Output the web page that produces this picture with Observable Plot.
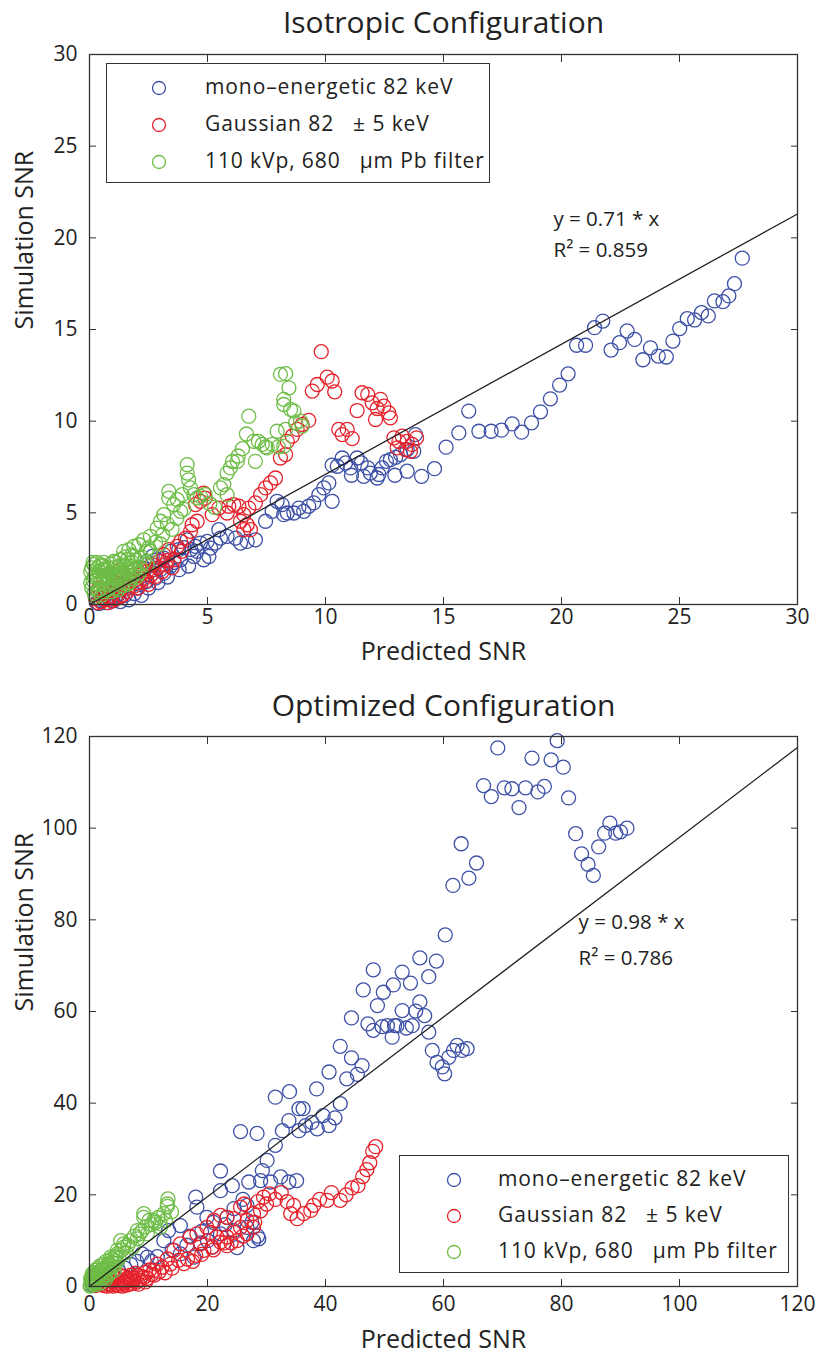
<!DOCTYPE html>
<html>
<head>
<meta charset="utf-8">
<script src="https://cdn.jsdelivr.net/npm/d3@7"></script>
<script src="https://cdn.jsdelivr.net/npm/@observablehq/plot@0.6"></script>
<style>
  body { margin: 0; background: #fff; }
  #wrap { position: relative; width: 817px; height: 1357px; overflow: hidden; background: #fff; }
  #wrap svg.plot { position: absolute; left: 0; }
  .legend { position: absolute; border: 1.3px solid #333; background: #fff; box-sizing: border-box; font-family: 'Open Sans', sans-serif; font-size: 21px; letter-spacing: 0.9px; color: #222; }
  .legend .row { position: absolute; white-space: pre; line-height: 1; }
  .legend svg { position: absolute; }
</style>
</head>
<body>
<div id="wrap"></div>
<script>
// ---------- data ----------
const seriesNames = ["mono\u2013energetic 82 keV", "Gaussian 82   \u00b1 5 keV", "110 kVp, 680   \u03bcm Pb filter"];
const seriesColors = ["#3d50a6", "#e5222b", "#6dbd46"];

const isoTitle = "Isotropic Configuration";
const optTitle = "Optimized Configuration";
const xLabel = "Predicted SNR";
const yLabel = "Simulation SNR";

const isoXTicks = [0, 5, 10, 15, 20, 25, 30];
const isoYTicks = [0, 5, 10, 15, 20, 25, 30];
const optXTicks = [0, 20, 40, 60, 80, 100, 120];
const optYTicks = [0, 20, 40, 60, 80, 100, 120];

const isoSlope = 0.71;
const optSlope = 0.98;
const isoFitText = ["y = 0.71 * x", "R\u00b2 = 0.859"];
const optFitText = ["y = 0.98 * x", "R\u00b2 = 0.786"];
const isoFitPos = [[19.66, 21.0], [19.66, 19.3]];
const optFitPos = [[82.9, 79.4], [82.9, 71.6]];

// Isotropic configuration: [predicted, simulated]
const isoMono = [[0.3,0.1],[0.4,0.05],[0.5,0.2],[0.61,0.34],[0.7,0.1],[0.82,0.34],[0.98,0.44],[1.0,0.2],[1.03,0.62],[1.17,0.8],[1.2,0.5],[1.31,0.16],[1.45,1.08],[1.5,0.5],[1.67,0.26],[1.74,1.26],[1.9,0.6],[1.95,1.35],[2.0,0.9],[2.16,1.08],[2.2,0.5],[2.3,1.98],[2.44,1.26],[2.44,2.35],[2.5,0.9],[2.6,1.6],[2.66,2.62],[2.8,1.44],[2.87,2.44],[2.9,1.2],[3.0,1.9],[3.15,1.71],[3.15,2.53],[3.3,1.5],[3.43,2.08],[3.43,2.9],[3.6,2.3],[3.78,2.99],[3.8,1.9],[3.86,2.44],[4.0,3.1],[4.14,3.53],[4.2,2.1],[4.3,3.0],[4.42,2.62],[4.49,3.17],[4.56,2.9],[4.7,3.35],[4.84,2.44],[4.99,3.44],[5.06,2.62],[5.13,3.08],[5.34,3.35],[5.48,4.08],[5.55,3.62],[5.83,3.72],[6.19,3.62],[6.4,3.35],[6.68,3.44],[7.03,3.53],[7.46,4.54],[7.74,5.08],[7.95,5.63],[8.16,5.45],[8.23,4.9],[8.38,4.99],[8.66,4.99],[8.87,5.26],[9.08,5.08],[9.29,5.36],[9.5,5.54],[9.72,5.99],[9.93,6.36],[10.14,6.63],[10.28,5.63],[10.28,7.6],[10.5,7.54],[10.71,7.99],[10.85,7.72],[11.06,7.45],[11.1,7.05],[11.34,7.99],[11.51,7.72],[11.62,6.99],[11.79,7.45],[11.9,7.17],[12.19,6.9],[12.26,7.09],[12.4,7.45],[12.58,7.81],[12.75,7.9],[12.94,7.05],[12.97,8.03],[13.18,8.18],[13.46,8.45],[13.46,7.27],[13.74,8.36],[13.81,9.27],[14.07,6.99],[14.62,7.41],[15.11,8.58],[15.65,9.36],[16.07,10.55],[16.5,9.45],[17.02,9.45],[17.46,9.51],[17.91,9.85],[18.31,9.4],[18.73,9.91],[19.11,10.51],[19.53,11.22],[19.92,11.97],[20.28,12.58],[20.64,14.14],[21.02,14.14],[21.4,15.1],[21.75,15.46],[22.1,13.88],[22.46,14.28],[22.78,14.92],[23.1,14.46],[23.45,13.35],[23.77,14.0],[24.1,13.55],[24.44,13.5],[24.72,14.37],[25.01,15.05],[25.33,15.59],[25.64,15.52],[25.93,15.92],[26.22,15.74],[26.48,16.56],[26.84,16.52],[27.09,16.83],[27.33,17.5],[27.66,18.89]];

const isoGauss = [[0.25,0.34],[0.35,0.1],[0.4,0.9],[0.47,0.16],[0.55,0.35],[0.6,0.6],[0.68,0.26],[0.75,0.7],[0.8,0.1],[0.89,0.44],[0.95,0.2],[1.0,1.6],[1.03,0.89],[1.1,0.3],[1.15,1.0],[1.2,1.3],[1.25,0.4],[1.31,0.8],[1.3,1.9],[1.4,0.5],[1.45,1.5],[1.53,1.08],[1.6,0.7],[1.65,0.9],[1.74,1.26],[1.85,1.6],[1.9,1.0],[1.95,1.35],[2.05,0.9],[2.1,1.2],[2.16,1.62],[2.25,1.9],[2.3,1.4],[2.4,1.3],[2.44,1.8],[2.5,1.1],[2.6,1.6],[2.66,2.17],[2.7,1.9],[2.8,1.53],[2.9,2.0],[2.94,2.35],[3.08,1.8],[3.15,2.72],[3.22,2.17],[3.3,2.4],[3.36,2.99],[3.5,2.0],[3.57,2.44],[3.72,3.17],[3.86,3.44],[3.9,2.9],[4.07,3.62],[4.28,3.99],[4.35,4.35],[4.49,5.45],[4.56,4.54],[4.7,5.63],[4.84,6.08],[4.9,5.8],[5.2,4.9],[5.48,5.26],[5.83,4.99],[5.9,5.36],[6.11,5.45],[6.33,5.36],[6.4,4.54],[6.54,4.9],[6.54,4.08],[6.68,4.35],[6.75,5.26],[6.82,4.08],[7.03,5.54],[7.25,5.99],[7.46,6.36],[7.67,6.63],[7.88,6.9],[8.09,7.99],[8.31,8.18],[8.38,8.9],[8.59,9.18],[8.8,9.55],[9.01,9.82],[9.29,10.04],[9.44,11.64],[9.65,12.0],[9.82,13.79],[10.07,12.4],[10.28,12.19],[10.39,11.6],[10.56,9.55],[10.71,9.27],[10.92,9.55],[11.13,9.05],[11.34,10.58],[11.55,11.55],[11.79,11.46],[11.98,11.0],[12.12,10.09],[12.19,10.69],[12.33,11.19],[12.47,10.82],[12.68,10.45],[12.75,10.18],[12.9,9.09],[13.04,8.54],[13.11,8.9],[13.25,9.18],[13.39,8.45],[13.46,8.9],[13.6,8.36],[13.67,8.73],[13.86,9.09]];

const isoSpec = [[0.05,1.2],[0.05,1.8],[0.1,0.9],[0.1,2.0],[0.15,1.3],[0.15,2.3],[0.19,2.17],[0.2,0.6],[0.2,1.5],[0.25,0.4],[0.3,1.1],[0.3,2.3],[0.33,1.5],[0.35,0.7],[0.35,2.0],[0.4,0.8],[0.4,1.8],[0.45,1.5],[0.47,2.17],[0.5,0.5],[0.5,1.2],[0.55,1.9],[0.55,2.1],[0.6,0.7],[0.6,1.4],[0.6,2.3],[0.65,1.6],[0.7,1.1],[0.7,1.9],[0.75,0.8],[0.75,1.4],[0.8,1.5],[0.8,2.0],[0.85,0.9],[0.9,1.7],[0.9,2.2],[0.95,0.7],[0.95,1.2],[1.0,1.1],[1.0,2.0],[1.03,2.35],[1.05,1.5],[1.1,0.9],[1.1,2.3],[1.15,1.5],[1.17,1.8],[1.2,0.8],[1.2,2.0],[1.25,1.3],[1.3,1.5],[1.3,2.1],[1.31,2.44],[1.35,1.7],[1.4,1.0],[1.4,1.6],[1.45,1.2],[1.45,2.9],[1.5,2.1],[1.5,2.6],[1.55,1.4],[1.6,1.1],[1.6,2.44],[1.65,1.9],[1.67,2.99],[1.7,1.2],[1.7,2.1],[1.74,1.8],[1.75,1.4],[1.8,2.3],[1.8,2.7],[1.85,1.6],[1.88,2.62],[1.88,3.17],[1.9,1.9],[1.95,2.0],[2.0,1.5],[2.0,2.4],[2.09,3.26],[2.1,1.7],[2.16,1.98],[2.2,2.6],[2.3,2.3],[2.3,3.53],[2.4,2.9],[2.44,2.17],[2.5,3.1],[2.58,2.9],[2.58,3.72],[2.8,3.4],[2.87,4.17],[3.0,3.3],[3.01,4.54],[3.1,3.8],[3.15,4.9],[3.3,4.4],[3.36,5.8],[3.36,6.17],[3.5,4.1],[3.57,5.45],[3.7,4.7],[3.72,5.72],[3.86,5.08],[3.93,5.99],[4.0,5.2],[4.14,7.17],[4.14,7.63],[4.2,6.8],[4.28,6.36],[4.42,5.99],[4.56,5.81],[4.7,5.9],[4.9,6.0],[5.1,5.5],[5.3,5.3],[5.55,6.36],[5.69,6.54],[5.83,5.99],[5.83,7.17],[5.97,7.45],[6.06,7.8],[6.26,7.81],[6.3,8.1],[6.48,8.5],[6.65,9.3],[6.75,10.27],[6.96,8.9],[7.03,7.81],[7.16,8.9],[7.32,8.73],[7.46,8.6],[7.53,8.54],[7.74,8.73],[7.95,9.45],[8.0,8.6],[8.09,12.55],[8.23,11.19],[8.23,10.91],[8.23,8.63],[8.31,12.59],[8.31,9.55],[8.45,11.82],[8.52,10.64],[8.66,10.55],[8.73,9.91],[8.94,10.0],[9.01,9.73]];

// Optimized configuration: [predicted, simulated]
const optMono = [[0.5,0.3],[1.2,0.8],[2,1.5],[3,2.0],[4,2.4],[5,3.2],[6,4.0],[7,4.8],[8,5.5],[8.9,7.1],[9.8,6.4],[10.5,5.5],[11.5,6.5],[12.6,10.0],[13.4,12.2],[14,8],[15.4,13.3],[15.4,7.1],[16.5,9],[17,11],[17.7,6.4],[18,19.5],[18.2,17.3],[18.8,9.5],[19,12],[19.9,15.1],[20,10],[20.8,8.6],[21,14],[22.2,11.5],[22.2,20.9],[22.2,25.2],[23,13.5],[23.3,15.1],[24.2,22.0],[24.5,12.2],[24.5,17],[25,8.5],[25.6,33.8],[26,19],[26.7,12.9],[26.7,17.7],[27.0,22.8],[27.5,14],[27.8,10.0],[28.4,33.4],[28.5,11],[28.7,10.4],[29.0,23.1],[29.3,25.3],[30.1,27.5],[30.7,22.8],[31.5,30.8],[31.5,41.3],[32.4,23.9],[32.7,34.0],[33.8,22.8],[33.8,36.2],[33.9,42.5],[35.1,23.1],[35.5,34.0],[35.5,38.8],[36.2,38.8],[36.6,35.1],[37.7,35.8],[38.5,43.1],[38.6,34.4],[39.6,37.3],[40.6,35.1],[40.6,46.8],[41.6,36.8],[42.5,39.9],[42.5,52.4],[43.6,45.3],[44.4,49.9],[44.4,58.6],[45.4,46.3],[46.2,48.2],[46.4,64.7],[47.2,57.3],[48.1,55.9],[48.1,69.1],[48.8,61.3],[49.6,56.7],[49.8,64.2],[50.5,56.9],[51.3,54.4],[51.5,65.8],[51.7,56.9],[52.1,56.9],[53.0,60.2],[53.0,68.6],[53.7,56.4],[54.4,66.2],[54.7,56.9],[55.3,60.1],[56.0,62.1],[56.0,71.7],[56.8,59.1],[57.5,55.5],[57.5,67.6],[58.1,51.5],[58.8,71.0],[58.9,48.9],[59.8,47.9],[60.2,46.4],[60.3,76.7],[60.9,50.0],[61.6,87.5],[61.7,51.5],[62.3,52.6],[63.0,96.6],[63.2,51.5],[64.0,51.9],[64.3,89.1],[65.6,92.4],[66.8,109.3],[68.1,106.9],[69.2,117.5],[70.3,108.8],[71.6,108.6],[72.8,104.5],[73.9,108.8],[75.0,115.3],[76.0,107.9],[77.1,109.1],[78.25,114.9],[79.27,119.1],[80.3,113.3],[81.2,106.6],[82.4,98.8],[83.4,94.4],[84.5,92.1],[85.4,89.7],[86.3,95.9],[87.3,98.9],[88.2,101.1],[89.2,98.9],[90.0,99.2],[91.1,100.0]];

const optGauss = [[1,0.2],[2,0.4],[2.2,0.9],[2.5,0.2],[2.7,1.1],[3,0.1],[3.0,0.6],[3.2,1.5],[3.5,0.3],[3.8,1.2],[4.0,0.1],[4.1,0.9],[4.3,2.0],[4.5,0.4],[4.8,1.6],[5,0.2],[5.2,2.4],[5.3,0.6],[5.5,1.3],[5.6,0.1],[5.8,0.8],[6,0.9],[6,2.2],[6.3,0.3],[6.4,1.8],[6.6,1.2],[6.8,0.5],[6.9,1.7],[7,2.5],[7.2,0.7],[7.3,1.3],[7.5,1.8],[7.8,2.9],[7.9,0.9],[8.1,2.4],[8.3,0.5],[8.5,1.4],[8.8,2.2],[9.2,2.0],[9.5,1.0],[9.5,3.1],[9.8,1.8],[10.2,3.6],[10.5,2.6],[10.9,3.5],[11,2.5],[11.5,4.9],[11.8,3.2],[12.3,4.2],[12.8,3.0],[13.2,6.0],[13.7,4.9],[14,4],[14.3,7.9],[15.1,5.7],[15.4,9.3],[16,5],[16.6,6.0],[17.1,10.8],[17.5,5.5],[18.0,6.8],[18.2,11.5],[18.8,9.3],[19,7],[19.4,7.9],[19.9,12.9],[20.5,11.8],[20.8,8.6],[21,8],[21.1,14.4],[21.6,10.8],[22.2,9.7],[22.2,15.5],[22.8,9.5],[23.3,8.9],[23.3,10.8],[23.3,15.1],[24,9.5],[24.5,11.8],[24.5,14.8],[25.0,10.0],[25.6,12.9],[25.6,17.3],[26,11],[26.2,18.0],[26.7,11.5],[26.7,14.4],[27.8,12.9],[27.8,15.9],[28,14],[28.5,18.5],[29,16.5],[29.5,19.5],[30,18],[30.5,20.2],[31.5,19.0],[32.5,20.5],[33.5,18.5],[34.1,15.9],[34.6,17.7],[35.2,14.8],[36.3,15.9],[37.5,16.6],[38.0,17.7],[39,19],[40.3,18.8],[41,20.5],[42.5,18.8],[43.5,20],[44.5,21.5],[45.5,22],[46.3,24],[47,25.5],[47.5,27],[48,29.5],[48.5,30.5]];

const optSpec = [[0.1,0.1],[0.2,0.3],[0.2,1.8],[0.3,0.8],[0.3,1.3],[0.4,2.0],[0.5,1.1],[0.5,2.8],[0.6,0.6],[0.7,2.4],[0.8,1.8],[0.8,3.0],[0.9,1.0],[1.0,0.4],[1.0,3.5],[1.1,2.7],[1.2,0.9],[1.3,3.9],[1.4,1.4],[1.5,2.2],[1.6,3.2],[1.7,2.8],[1.8,4.5],[1.9,0.8],[2.0,1.5],[2.1,3.8],[2.2,3.0],[2.3,2.0],[2.4,4.9],[2.5,3.5],[2.6,2.2],[2.7,1.5],[2.8,5.5],[2.9,4.2],[3.0,3.8],[3.1,4.8],[3.2,2.5],[3.3,5.0],[3.4,3.0],[3.5,4.0],[3.6,6.4],[3.8,6.0],[3.9,5.2],[4.0,4.4],[4.2,3.5],[4.3,5.6],[4.4,6.5],[4.5,5.0],[4.7,7.1],[4.7,7.9],[5.0,6.2],[5.3,10.0],[5.5,8.0],[5.8,8.6],[5.8,9.3],[6.2,7.4],[6.5,9.0],[6.9,10.0],[7.3,8.5],[7.6,11.0],[8.1,10.4],[8.1,12.2],[8.5,11.5],[8.9,12.2],[9.2,15.1],[9.2,15.9],[9.5,13.0],[9.8,11.5],[10.1,14.4],[10.5,13.5],[10.9,14.4],[11.2,14.0],[11.6,15.0],[12.0,12.9],[12.0,13.7],[12.6,15.9],[12.9,14.4],[13.2,17.5],[13.2,18.0],[13.3,19.1],[13.9,16.3]];

// ---------- drawing ----------
const FONT = "'Open Sans', 'Noto Sans', sans-serif";

function scatter(cfg) {
  const toRows = (arr) => arr.map(([x, y]) => ({x, y}));
  const [x0, x1] = [cfg.xTicks[0], cfg.xTicks[cfg.xTicks.length - 1]];
  const fitLine = [x0, x1].map(x => ({x, y: cfg.slope * x}));
  const fitRows = cfg.fitText.map((t, i) => ({t, x: cfg.fitPos[i][0], y: cfg.fitPos[i][1]}));
  const dotOpts = (c) => ({x: "x", y: "y", r: 7, stroke: c, fill: "none", strokeWidth: 1.3});
  const svg = Plot.plot({
    width: 817, height: cfg.height,
    marginTop: cfg.mt, marginBottom: cfg.mb, marginLeft: 89, marginRight: 20,
    x: {domain: [x0, x1]},
    y: {domain: [cfg.yTicks[0], cfg.yTicks[cfg.yTicks.length - 1]]},
    style: {fontFamily: FONT, fontSize: "21px", color: "#222", background: "white", overflow: "visible"},
    marks: [
      Plot.dot(toRows(cfg.series[0]), dotOpts(seriesColors[0])),
      Plot.dot(toRows(cfg.series[1]), dotOpts(seriesColors[1])),
      Plot.dot(toRows(cfg.series[2]), dotOpts(seriesColors[2])),
      Plot.line(fitLine, {x: "x", y: "y", stroke: "#222", strokeWidth: 1.3}),
      Plot.text(fitRows, {x: "x", y: "y", text: "t", textAnchor: "start", fontSize: 20.5, fill: "#222", ariaLabel: "fit"}),
      Plot.frame({stroke: "#333", strokeWidth: 1.3}),
      Plot.axisX(cfg.xTicks, {anchor: "bottom", tickSize: 7, dy: -7, tickFormat: () => "", label: null, stroke: "#333"}),
      Plot.axisX(cfg.xTicks, {anchor: "top", tickSize: 7, dy: 7, tickFormat: () => "", label: null, stroke: "#333"}),
      Plot.axisY(cfg.yTicks, {anchor: "left", tickSize: 7, dx: 7, tickFormat: () => "", label: null, stroke: "#333"}),
      Plot.axisY(cfg.yTicks, {anchor: "right", tickSize: 7, dx: -7, tickFormat: () => "", label: null, stroke: "#333"}),
      Plot.axisX(cfg.xTicks, {anchor: "bottom", tickSize: 0, tickPadding: cfg.xTickPad, label: null, fontSize: 21, fill: "#222"}),
      Plot.axisY(cfg.yTicks, {anchor: "left", tickSize: 0, tickPadding: 12, label: null, fontSize: 21, fill: "#222"}),
      Plot.text([cfg.title], {frameAnchor: "top", dy: cfg.titleDy, fontSize: 30, fill: "#222", text: d => d, ariaLabel: "title"}),
      Plot.text([xLabel], {frameAnchor: "bottom", dy: cfg.xLabelDy, fontSize: 25, fill: "#222", text: d => d, ariaLabel: "xlabel"}),
      Plot.text([yLabel], {frameAnchor: "left", dx: -65, rotate: -90, fontSize: 25, fill: "#222", text: d => d, ariaLabel: "ylabel"})
    ]
  });
  d3.select(svg).selectAll('g[aria-label="title"] text').style("letter-spacing", "1px");
  d3.select(svg).selectAll('g[aria-label="xlabel"] text, g[aria-label="ylabel"] text').style("letter-spacing", "1.2px");
  d3.select(svg).selectAll('g[aria-label="fit"] text').style("letter-spacing", "0.6px");
  return svg;
}

const wrap = document.getElementById("wrap");

const p1 = scatter({
  height: 665, mt: 54, mb: 61, title: isoTitle, titleDy: -43, xLabelDy: 55, xTickPad: 5,
  xTicks: isoXTicks, yTicks: isoYTicks, slope: isoSlope,
  fitText: isoFitText, fitPos: isoFitPos,
  series: [isoMono, isoGauss, isoSpec]
});
p1.classList.add("plot");
p1.style.top = "0px";
wrap.appendChild(p1);

const p2 = scatter({
  height: 692, mt: 71, mb: 71, title: optTitle, titleDy: -42, xLabelDy: 61, xTickPad: 10,
  xTicks: optXTicks, yTicks: optYTicks, slope: optSlope,
  fitText: optFitText, fitPos: optFitPos,
  series: [optMono, optGauss, optSpec]
});
p2.classList.add("plot");
p2.style.top = "665px";
wrap.appendChild(p2);

function legend(box) {
  const div = document.createElement("div");
  div.className = "legend";
  Object.assign(div.style, {left: box.left + "px", top: box.top + "px", width: box.width + "px", height: box.height + "px"});
  seriesNames.forEach((name, i) => {
    const cy = box.rows[i];
    const s = document.createElementNS("http://www.w3.org/2000/svg", "svg");
    s.setAttribute("width", 20); s.setAttribute("height", 20);
    s.style.left = (box.cx - 10) + "px"; s.style.top = (cy - 10) + "px";
    s.innerHTML = `<circle cx="10" cy="10" r="6.5" fill="none" stroke="${seriesColors[i]}" stroke-width="1.3"/>`;
    div.appendChild(s);
    const t = document.createElement("div");
    t.className = "row";
    t.textContent = name;
    t.style.left = box.tx + "px";
    t.style.top = (cy - 12) + "px";
    div.appendChild(t);
  });
  wrap.appendChild(div);
}
legend({left: 106, top: 63, width: 384, height: 120, cx: 52, tx: 98, rows: [24, 61, 98]});
legend({left: 399, top: 1155, width: 390, height: 118, cx: 54, tx: 98, rows: [24, 60, 96]});
</script>
</body>
</html>
